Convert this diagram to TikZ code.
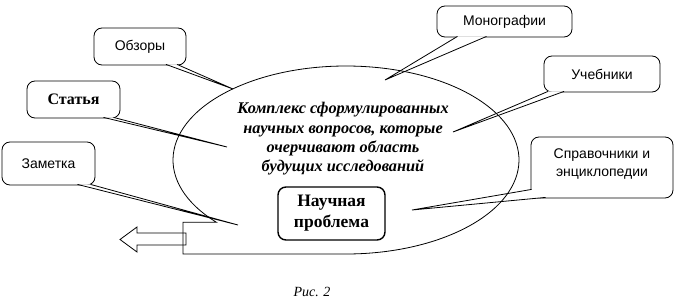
\documentclass[tikz,border=0pt]{standalone}
\usepackage{fontspec}
\setmainfont{Liberation Serif}
\setsansfont{Liberation Sans}
\usetikzlibrary{calc}
\begin{document}
\begin{tikzpicture}[x=1pt,y=-1pt,line width=0.8pt,
  callbox/.style={draw, rounded corners=8pt, fill=white, inner sep=0pt, align=center,
    font=\sffamily\fontsize{14}{18.5}\selectfont},
  probbox/.style={draw, rounded corners=8pt, line width=1.4pt, fill=white, inner sep=0pt, align=center,
    font=\bfseries\fontsize{17.5}{21}\selectfont},
  wedgefill/.style={fill=white, draw=none},
  wedgeline/.style={line width=0.8pt},
  maintext/.style={align=center, inner sep=0pt, font=\bfseries\itshape\fontsize{16.3}{19.4}\selectfont},
]
\useasboundingbox (0,0) rectangle (678,305);

% callout boxes
\node[callbox, minimum width=92pt, minimum height=37pt] (obz) at (140,46.5) {Обзоры};
\node[callbox, minimum width=93pt, minimum height=37pt, font=\bfseries\fontsize{16}{18}\selectfont] (stat) at (73.5,99.5) {Статья};
\node[callbox, minimum width=93pt, minimum height=43pt] (zam) at (48.5,163.5) {Заметка};
\node[callbox, minimum width=135pt, minimum height=31pt] (mon) at (504.5,21.5) {Монографии};
\node[callbox, minimum width=116pt, minimum height=36pt] (ucheb) at (602,74) {Учебники};
\node[callbox, minimum width=142pt, minimum height=61pt, text depth=10pt] (sprav) at (602,167.5) {Справочники и\\энциклопедии};

% pointer tips
\coordinate (tobz) at (233,89);
\coordinate (tstat) at (227,147);
\coordinate (tzam) at (238,225);
\coordinate (tmon) at (385,80);
\coordinate (tucheb) at (453,132);
\coordinate (tsprav) at (412,210);

% pointer base points
\coordinate (obz1) at ($(obz.south)+(26,-1)$);
\coordinate (obz2) at ($(obz.south)+(37,-1)$);
\coordinate (stat1) at ($(stat.south)+(30,-1)$);
\coordinate (stat2) at ($(stat.south)+(40,-1)$);
\coordinate (zam1) at ($(zam.south)+(29,-1)$);
\coordinate (zam2) at ($(zam.south)+(42,-1)$);
\coordinate (mon1) at ($(mon.south)+(-47,-1)$);
\coordinate (mon2) at ($(mon.south)+(-18,-1)$);
\coordinate (ucheb1) at ($(ucheb.south)+(-54,-1)$);
\coordinate (ucheb2) at ($(ucheb.south)+(-38,-1)$);
\coordinate (sprav1) at ($(sprav.south west)+(1,-9)$);
\coordinate (sprav2) at ($(sprav.south west)+(15,-1)$);

\foreach \n in {obz,stat,zam,mon,ucheb,sprav}{
  \fill[wedgefill] (\n1) -- (t\n) -- (\n2) -- cycle;
}

% main ellipse with notch and arrow
\coordinate (c) at (346,160);
\draw (c) ++(221.5:173pt and 94pt)
  arc[start angle=221.5, end angle=-90, x radius=173pt, y radius=94pt]
  -- (183,254) -- (183,222.3) -- cycle;
\draw (186,233) -- (137,233) -- (137,227) -- (120,239.5) -- (137,252) -- (137,245) -- (186,245) -- cycle;

% pointer lines
\foreach \n in {obz,stat,zam,mon,ucheb,sprav}{
  \draw[wedgeline] (\n1) -- (t\n) -- (\n2);
}

\node[maintext] (main) at (343,139) {Комплекс сформулированных\\научных вопросов, которые\\очерчивают область\\будущих исследований};

\node[probbox, minimum width=107pt, minimum height=53pt] (np) at (331.5,213.5) {Научная\\проблема};

\node[font=\itshape\fontsize{14}{16}\selectfont, inner sep=0pt] (cap) at (312,292) {Рис. 2};
\end{tikzpicture}
\end{document}
